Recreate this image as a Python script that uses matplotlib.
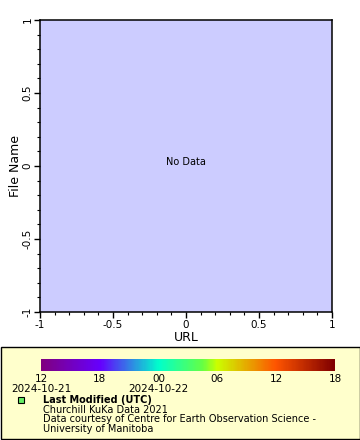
import numpy as np
import matplotlib
matplotlib.use("Agg")
import matplotlib.pyplot as plt
from matplotlib.colors import LinearSegmentedColormap
from matplotlib.patches import Rectangle

plt.rcParams.update({
    "font.family": "DejaVu Sans",
    "font.size": 7,
})

W, H = 360, 440

# Axis setup
x_limits = [-1, 1]
y_limits = [-1, 1]
major_ticks = [-1, -0.5, 0, 0.5, 1]
major_labels = ["-1", "-0.5", "0", "0.5", "1"]
x_label = "URL"
y_label = "File Name"
empty_msg = "No Data"

# Colour scale (hours since 2024-10-21 00:00 UTC)
cbar_range = [12, 42]
cbar_ticks = [12, 18, 24, 30, 36, 42]
cbar_labels = ["12", "18", "00", "06", "12", "18"]
date_ticks = [12, 24]
date_labels = ["2024-10-21", "2024-10-22"]
cbar_colors = ["#800080", "#6600ff", "#00ffcc", "#66ff44", "#ccff00",
               "#ff5500", "#800000"]
cbar_stops = [0.0, 0.2, 0.4, 0.55, 0.6, 0.8, 1.0]

legend_title = "Last Modified (UTC)"
legend_lines = ["Churchill KuKa Data 2021",
                "Data courtesy of Centre for Earth Observation Science -",
                "University of Manitoba"]


def fx(x):
    return x / W


def fy(y):
    return 1 - y / H


fig = plt.figure(figsize=(W / 100, H / 100), dpi=100)

# main plot
ax = fig.add_axes([fx(40), fy(312), 292 / W, 292 / H])
ax.set_facecolor("#ccccff")
ax.set_xlim(x_limits)
ax.set_ylim(y_limits)
ax.set_xticks(major_ticks)
ax.set_xticklabels(major_labels)
ax.set_yticks(major_ticks)
ax.set_yticklabels(major_labels, rotation=90, va="center")
ax.set_xticks(np.arange(-1, 1.01, 0.1), minor=True)
ax.set_yticks(np.arange(-1, 1.01, 0.1), minor=True)
ax.tick_params(which="major", length=4, width=1, labelsize=7.5, pad=1.5)
ax.tick_params(which="minor", length=2.2, width=0.8)
for s in ax.spines.values():
    s.set_linewidth(1.1)
ax.set_xlabel(x_label, fontsize=9, labelpad=1)
ax.set_ylabel(y_label, fontsize=9, labelpad=0)
ax.text(0, 0.03, empty_msg, ha="center", va="center", fontsize=7)

# legend panel (behind the colour bar)
fig.patches.append(Rectangle((fx(0.5), fy(439)), 359 / W, 92 / H,
                             transform=fig.transFigure, facecolor="#ffffcc",
                             edgecolor="black", linewidth=1.0, zorder=-1))

cmap = LinearSegmentedColormap.from_list("age", list(zip(cbar_stops, cbar_colors)))
cax = fig.add_axes([fx(41), fy(371), 294 / W, 12 / H])
grad = np.linspace(cbar_range[0], cbar_range[1], 300)[None, :]
cax.imshow(grad, aspect="auto", cmap=cmap,
           extent=[cbar_range[0], cbar_range[1], 0, 1])
cax.set_xlim(cbar_range)
cax.set_yticks([])
cax.set_xticks(cbar_ticks)
cax.set_xticklabels(cbar_labels, fontsize=7.5)
cax.tick_params(axis="x", length=0, pad=2)
for s in cax.spines.values():
    s.set_visible(False)
for t, lab in zip(date_ticks, date_labels):
    cax.text(t, -1.05, lab, ha="center", va="top", fontsize=7.5,
             transform=cax.get_xaxis_transform())

# legend entry
fig.add_artist(Rectangle((fx(18), fy(403)), 6 / W, 6 / H,
                         transform=fig.transFigure, facecolor="#66ee66",
                         edgecolor="black", linewidth=0.8, zorder=3))
fig.text(fx(43), fy(400), legend_title, fontsize=7, fontweight="bold",
         va="center", ha="left")
for i, line in enumerate(legend_lines):
    fig.text(fx(43), fy(409.5 + 9.5 * i), line, fontsize=7,
             va="center", ha="left")

fig.savefig("out.png", dpi=100)
